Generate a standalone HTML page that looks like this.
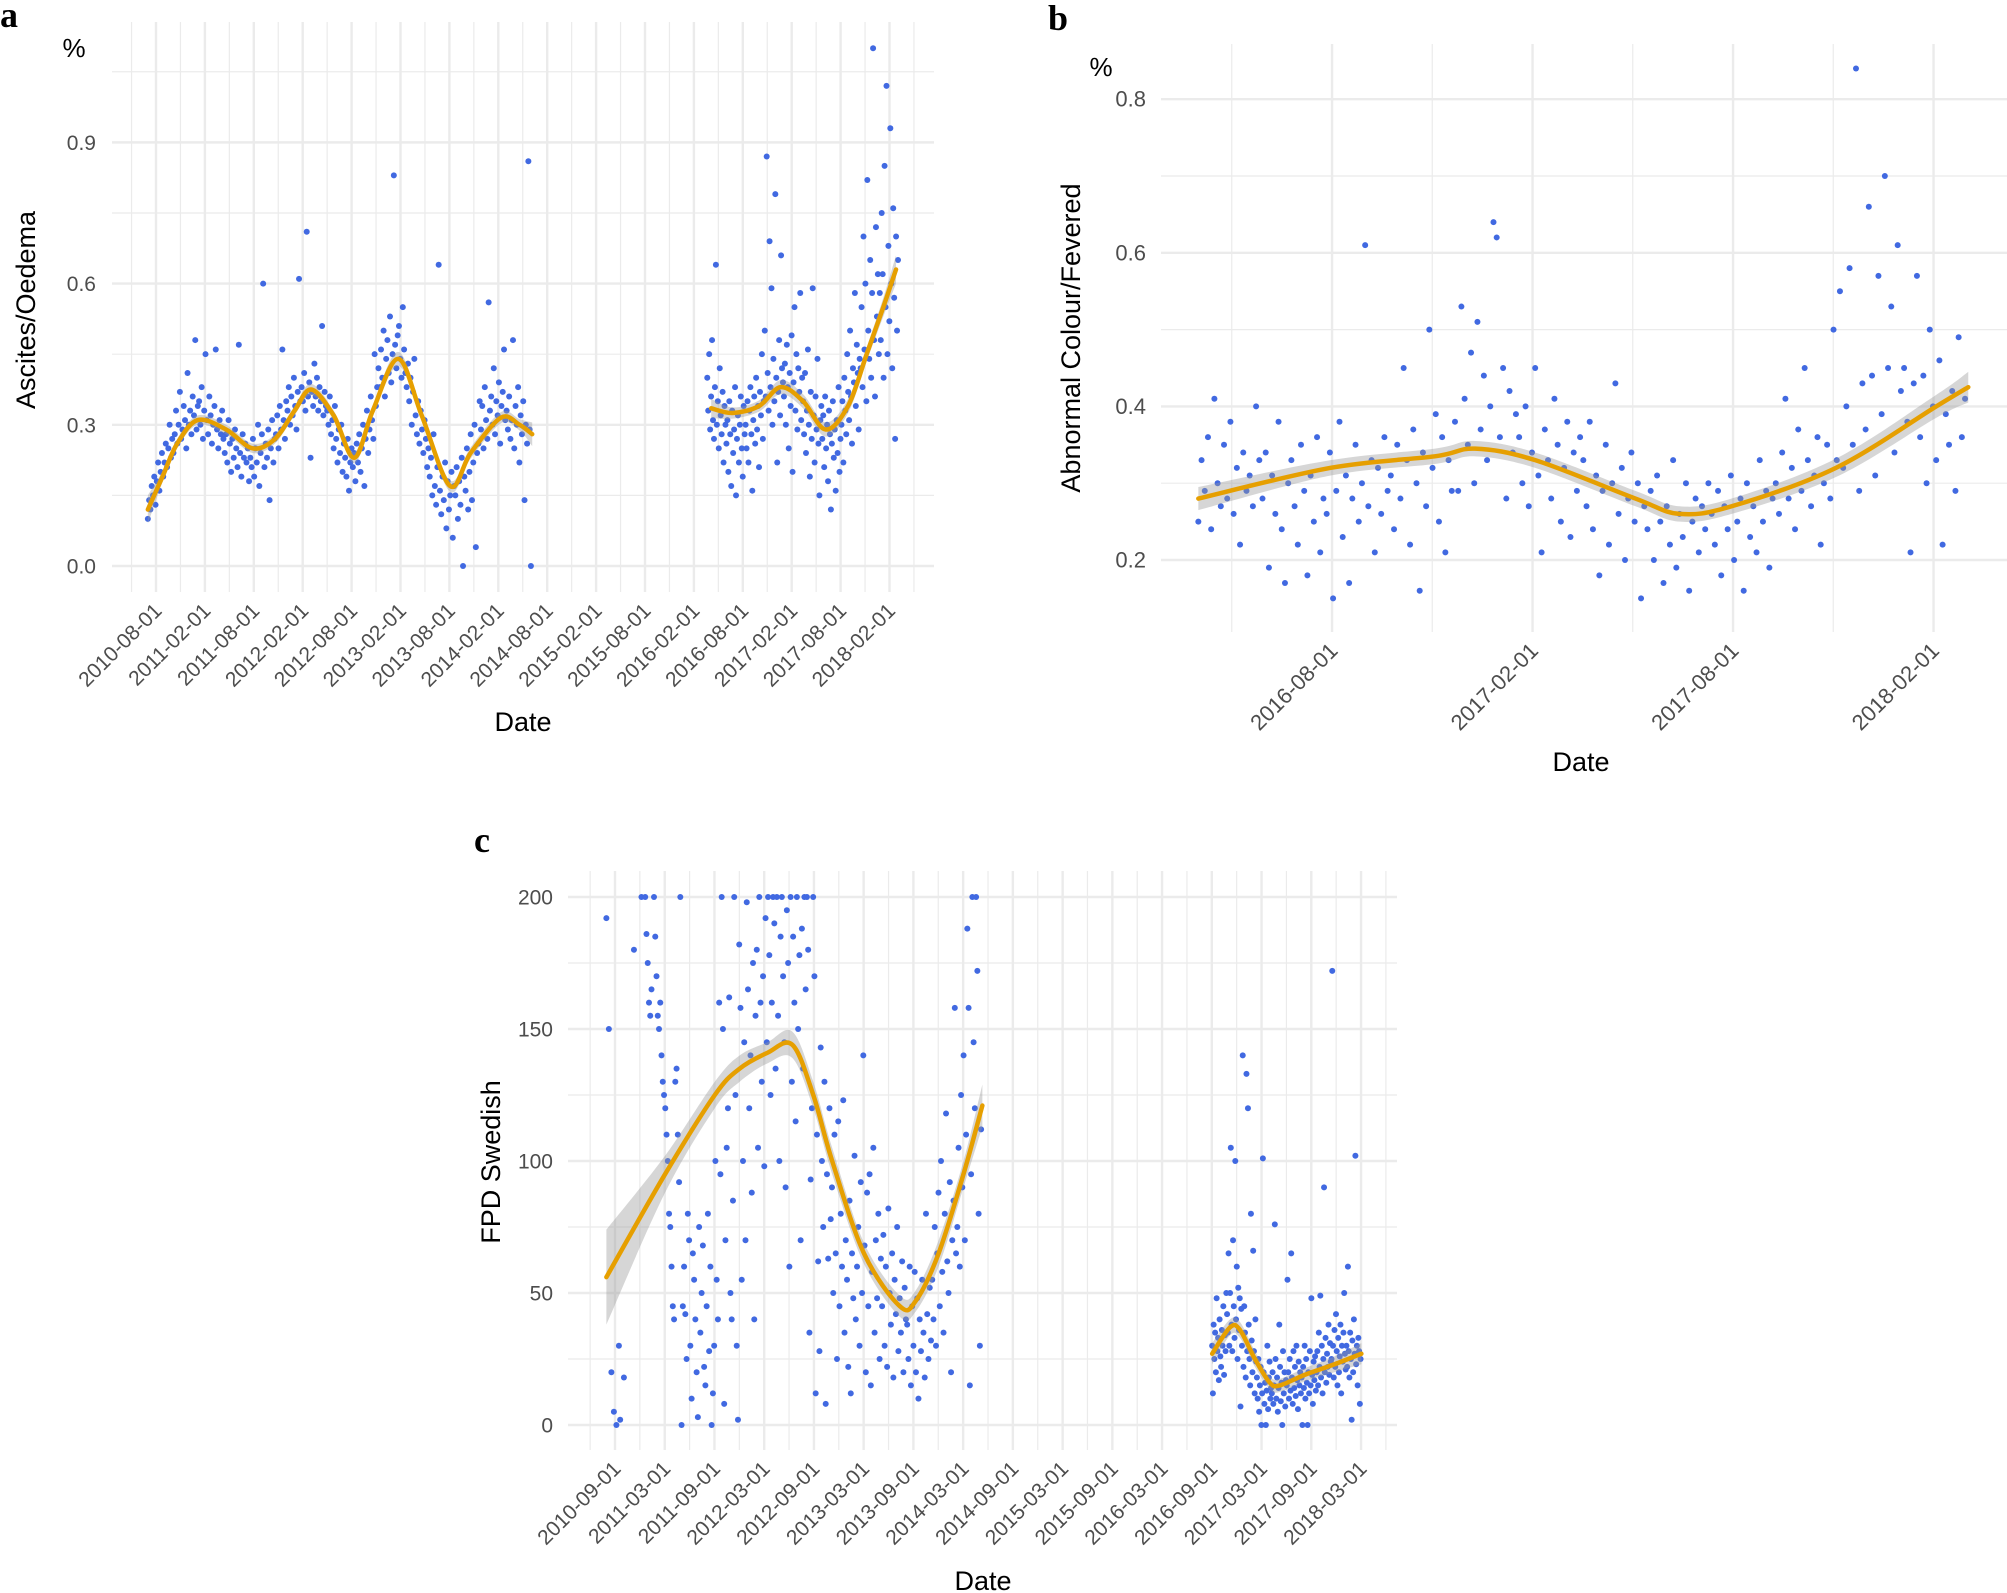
<!DOCTYPE html>
<html><head><meta charset="utf-8">
<style>
html,body{margin:0;padding:0;background:#fff;}
svg{display:block;font-family:"Liberation Sans",sans-serif;}
</style></head>
<body>
<svg id="chart" width="2007" height="1593" viewBox="0 0 2007 1593" xmlns="http://www.w3.org/2000/svg"></svg>
<script>
// ---------- Panel a data ----------
const aTickLabels=['2010-08-01','2011-02-01','2011-08-01','2012-02-01','2012-08-01','2013-02-01','2013-08-01','2014-02-01','2014-08-01','2015-02-01','2015-08-01','2016-02-01','2016-08-01','2017-02-01','2017-08-01','2018-02-01'];
const aYTicks=[0,0.3,0.6,0.9];
const aSeg1Start=2010.50, aSeg1Step=0.0131;
const aSeg1Values=[.10,.14,.12,.17,.15,.19,.13,.18,.22,.16,.20,.24,.19,.22,.26,.21,.25,.30,.23,.27,
.24,.28,.33,.26,.30,.37,.27,.29,.34,.31,.25,.41,.30,.33,.28,.36,.32,.48,.29,.34,
.35,.30,.38,.27,.33,.45,.31,.28,.36,.32,.26,.30,.34,.46,.29,.25,.31,.28,.33,.27,
.24,.28,.22,.31,.26,.20,.27,.23,.29,.25,.21,.47,.24,.19,.28,.23,.26,.22,.25,.18,
.23,.21,.27,.19,.25,.22,.30,.17,.24,.28,.60,.21,.26,.23,.29,.14,.25,.31,.22,.27,
.28,.32,.25,.34,.29,.46,.31,.27,.35,.33,.38,.30,.36,.32,.40,.34,.29,.37,.61,.35,
.38,.35,.41,.33,.71,.36,.39,.23,.37,.34,.43,.36,.40,.33,.38,.35,.51,.32,.37,.34,
.33,.30,.36,.28,.31,.25,.34,.27,.22,.29,.24,.30,.20,.26,.23,.19,.27,.16,.22,.25,
.21,.24,.18,.26,.22,.28,.20,.25,.30,.17,.27,.33,.24,.29,.36,.31,.27,.45,.34,.38,
.42,.38,.46,.40,.50,.36,.44,.48,.41,.53,.39,.45,.83,.47,.42,.49,.51,.44,.40,.55,
.46,.41,.38,.43,.35,.40,.30,.37,.44,.32,.28,.35,.26,.33,.29,.24,.31,.27,.21,.25,
.19,.23,.15,.28,.17,.13,.21,.64,.16,.11,.19,.14,.22,.08,.18,.12,.15,.20,.06,.17,
.15,.21,.10,.18,.13,.23,.00,.19,.16,.25,.12,.20,.28,.14,.22,.30,.04,.24,.26,.35,
.29,.34,.25,.38,.31,.27,.56,.33,.36,.30,.42,.28,.35,.32,.39,.26,.34,.37,.46,.31,
.33,.29,.36,.27,.31,.48,.25,.34,.30,.38,.22,.32,.28,.35,.14,.30,.26,.86,.29,.00];
const aSeg2Start=2016.22, aSeg2Step=0.0098;
const aSeg2Values=[.40,.33,.45,.29,.36,.48,.31,.27,.38,.64,.30,.35,.25,.42,.32,.28,.37,.22,.34,.30,
.26,.31,.20,.35,.28,.17,.33,.24,.29,.38,.15,.27,.32,.22,.30,.36,.25,.19,.34,.28,
.30,.25,.35,.22,.33,.38,.28,.16,.31,.36,.26,.40,.29,.34,.21,.37,.32,.45,.27,.35,
.50,.36,.87,.41,.33,.69,.38,.59,.30,.44,.35,.79,.40,.22,.37,.48,.32,.66,.42,.39,
.36,.43,.30,.47,.38,.25,.41,.34,.49,.20,.39,.55,.33,.45,.29,.42,.37,.58,.31,.40,
.35,.28,.41,.24,.33,.46,.30,.19,.37,.27,.59,.32,.22,.36,.29,.44,.26,.15,.31,.34,
.27,.32,.21,.36,.25,.30,.18,.33,.28,.12,.26,.35,.23,.29,.16,.31,.24,.38,.20,.27,
.30,.35,.22,.40,.33,.28,.45,.37,.31,.50,.36,.26,.42,.39,.58,.34,.47,.41,.29,.44,
.42,.55,.38,.70,.46,.60,.35,.82,.50,.44,.65,.40,.58,1.10,.48,.36,.72,.53,.62,.45,
.58,.48,.75,.62,.40,.85,.55,1.02,.45,.68,.52,.93,.60,.42,.76,.57,.27,.70,.50,.65];
const aSmooth1T=[2010.50,2010.65,2010.80,2011.01,2011.30,2011.57,2011.80,2012.00,2012.17,2012.40,2012.61,2012.80,2013.06,2013.30,2013.59,2013.80,2014.11,2014.30,2014.43];
const aSmooth1V=[.12,.19,.26,.31,.29,.25,.27,.33,.375,.32,.23,.33,.44,.32,.17,.24,.315,.30,.28];
const aSmooth1Band=[.03,.012,.01,.01,.01,.01,.01,.01,.012,.01,.012,.012,.015,.012,.012,.012,.012,.012,.025];
const aSmooth2T=[2016.26,2016.48,2016.75,2016.97,2017.20,2017.43,2017.66,2017.85,2018.02,2018.15];
const aSmooth2V=[.335,.325,.34,.38,.35,.29,.34,.45,.55,.63];
const aSmooth2Band=[.02,.012,.012,.015,.015,.015,.015,.015,.02,.03];

// ---------- Panel b data ----------
const bTickLabels=['2016-08-01','2017-02-01','2017-08-01','2018-02-01'];
const bYTicks=[0.2,0.4,0.6,0.8];
const bStart=2016.25, bStep=0.008;
const bValues=[.25,.33,.29,.36,.24,.41,.30,.27,.35,.28,.38,.26,.32,.22,.34,.29,.31,.27,.40,.33,
.28,.34,.19,.31,.26,.38,.24,.17,.30,.33,.27,.22,.35,.29,.18,.31,.25,.36,.21,.28,
.26,.34,.15,.29,.38,.23,.31,.17,.28,.35,.25,.30,.61,.27,.33,.21,.32,.26,.36,.29,
.31,.24,.35,.28,.45,.33,.22,.37,.30,.16,.34,.27,.50,.32,.39,.25,.36,.21,.33,.29,
.38,.29,.53,.41,.35,.47,.30,.51,.37,.44,.33,.40,.64,.62,.36,.45,.28,.42,.34,.39,
.36,.30,.40,.27,.34,.45,.31,.21,.37,.33,.28,.41,.35,.25,.32,.38,.23,.34,.29,.36,
.33,.27,.38,.24,.31,.18,.29,.35,.22,.30,.43,.26,.32,.20,.28,.34,.25,.30,.15,.27,
.24,.29,.20,.31,.25,.17,.27,.22,.33,.19,.26,.23,.30,.16,.25,.28,.21,.27,.24,.30,
.26,.22,.29,.18,.27,.24,.31,.20,.25,.28,.16,.30,.23,.27,.21,.33,.25,.29,.19,.28,
.30,.26,.34,.41,.28,.32,.24,.37,.29,.45,.33,.27,.31,.36,.22,.30,.35,.28,.50,.33,
.55,.32,.40,.58,.35,.84,.29,.43,.37,.66,.44,.31,.57,.39,.70,.45,.53,.34,.61,.42,
.45,.38,.21,.43,.57,.36,.44,.30,.50,.40,.33,.46,.22,.39,.35,.42,.29,.49,.36,.41];
const bSmoothT=[2016.25,2016.58,2016.84,2016.94,2017.09,2017.34,2017.45,2017.58,2017.84,2018.09,2018.17];
const bSmoothV=[.28,.32,.335,.345,.33,.28,.26,.27,.32,.40,.425];
const bSmoothBand=[.015,.01,.01,.01,.01,.01,.01,.01,.012,.015,.02];

// ---------- Panel c data ----------
const cTickLabels=['2010-09-01','2011-03-01','2011-09-01','2012-03-01','2012-09-01','2013-03-01','2013-09-01','2014-03-01','2014-09-01','2015-03-01','2015-09-01','2016-03-01','2016-09-01','2017-03-01','2017-09-01','2018-03-01'];
const cYTicks=[0,50,100,150,200];
const cSeg1Start=2010.58, cSeg1Step=0.0126;
const cSeg1Values=[192,null,150,null,20,null,5,null,0,null,30,2,null,null,18,null,null,null,null,null,
null,null,180,null,null,null,null,null,200,null,null,200,186,175,160,155,165,null,200,185,
170,155,150,160,140,130,125,120,110,100,80,75,60,45,40,130,135,110,92,200,
0,45,60,42,25,80,70,30,10,65,55,40,20,3,75,35,50,68,22,15,
45,80,28,60,0,12,30,100,55,40,160,95,200,150,8,70,105,120,162,50,
40,85,200,125,30,2,182,158,55,100,145,70,198,165,120,140,88,175,40,155,
180,105,200,160,130,170,98,192,145,200,178,125,160,200,190,135,200,155,100,185,
200,170,145,90,195,175,60,200,130,185,160,115,200,150,178,70,188,135,200,165,
200,180,35,93,120,200,170,12,110,62,28,143,100,75,130,8,95,63,120,78,
90,50,110,65,25,115,45,80,60,123,35,70,55,22,85,12,65,48,102,40,
60,75,30,92,50,140,68,20,88,45,95,15,58,105,35,70,48,80,25,63,
45,72,30,60,22,82,50,38,65,18,55,42,75,28,48,35,62,20,52,40,
38,25,60,15,45,30,58,20,48,10,40,28,55,35,18,80,42,25,52,32,
55,40,75,30,65,88,45,100,58,35,80,118,62,50,92,20,70,85,158,65,
75,105,60,125,90,140,70,110,188,158,15,95,200,145,120,200,172,80,30,112];
const cSeg2Start=2016.67, cSeg2Step=0.0075;
const cSeg2Values=[30,12,38,25,35,20,48,28,33,17,40,26,22,36,30,45,19,34,28,50,
42,35,65,30,50,105,38,28,70,45,33,100,40,60,25,52,36,48,7,44,
30,140,22,45,35,18,133,28,120,38,25,15,80,32,20,66,28,12,40,24,
18,10,25,5,15,22,0,12,101,20,8,16,0,13,30,6,18,24,10,14,
12,20,8,15,76,25,10,18,5,14,38,22,9,16,0,28,12,20,7,17,
15,55,20,10,25,13,65,18,8,28,14,22,11,30,17,6,24,15,20,12,
18,0,22,14,30,10,25,16,0,20,12,28,15,48,19,8,24,17,26,13,
20,28,15,35,22,49,18,30,12,25,90,20,33,16,27,22,38,19,31,24,
25,172,30,18,36,22,42,28,15,33,20,26,38,12,30,24,35,50,27,21,
30,22,60,28,18,35,25,2,32,20,40,27,102,23,30,15,33,28,8,25];
const cSmooth1T=[2010.58,2011.17,2011.67,2011.92,2012.20,2012.45,2012.66,2012.85,2013.17,2013.53,2013.69,2013.92,2014.17,2014.36];
const cSmooth1V=[56,95,125,135,141,144,125,100,65,45,47,65,95,121];
const cSmooth1Band=[18,7,5,5,4,5,5,5,4,4,4,5,5,8];
const cSmooth2T=[2016.67,2016.85,2016.95,2017.10,2017.25,2017.35,2017.60,2017.90,2018.17];
const cSmooth2V=[27,37,36,25,16,15,19,23,27];
const cSmooth2Band=[4,3,3,3,2.5,2.5,2.5,3,4];

// ---------- rendering ----------
const svg=document.getElementById('chart');
const NS='http://www.w3.org/2000/svg';
function mk(tag,attrs,parent){const e=document.createElementNS(NS,tag);for(const k in attrs)e.setAttribute(k,attrs[k]);(parent||svg).appendChild(e);return e;}
function dateToYear(s){const p=s.split('-');return +p[0]+(+p[1]-1)/12;}
function crPath(pts){let d='M'+pts[0][0]+','+pts[0][1];for(let i=0;i<pts.length-1;i++){const p0=pts[i-1]||pts[i],p1=pts[i],p2=pts[i+1],p3=pts[i+2]||p2;const c1=[p1[0]+(p2[0]-p0[0])/6,p1[1]+(p2[1]-p0[1])/6],c2=[p2[0]-(p3[0]-p1[0])/6,p2[1]-(p3[1]-p1[1])/6];d+='C'+c1[0]+','+c1[1]+' '+c2[0]+','+c2[1]+' '+p2[0]+','+p2[1];}return d;}
function crCont(pts){return crPath(pts).replace(/^M/,'L');}

function panel(cfg){
  const g=mk('g',{});
  
  
  cfg.hMinor.forEach(v=>{const l=mk('line',{x1:cfg.gx0,x2:cfg.gx1,y1:cfg.y(v),y2:cfg.y(v),stroke:'#EBEBEB','stroke-width':1.2},g);
    
    });
  cfg.yTicks.forEach(v=>{const l=mk('line',{x1:cfg.gx0,x2:cfg.gx1,y1:cfg.y(v),y2:cfg.y(v),stroke:'#EBEBEB','stroke-width':2.4},g);
    
    
    const t=mk('text',{x:cfg.ylabX,y:cfg.y(v)+7.5,'text-anchor':'end','font-size':cfg.tickFs,fill:'#4D4D4D'},g);
    t.textContent=cfg.yFmt(v);
    
    });
  cfg.vMinor.forEach(t=>{const l=mk('line',{x1:cfg.x(t),x2:cfg.x(t),y1:cfg.gy0,y2:cfg.gy1,stroke:'#EBEBEB','stroke-width':1.2},g);
    
    });
  cfg.ticks.forEach(s=>{const xx=cfg.x(dateToYear(s));const l=mk('line',{x1:xx,x2:xx,y1:cfg.gy0,y2:cfg.gy1,stroke:'#EBEBEB','stroke-width':2.4},g);
    
    
    const lx=xx+7,ly=cfg.gy1+20;
    const t=mk('text',{x:lx,y:ly,'text-anchor':'end','font-size':cfg.tickFs,fill:'#4D4D4D',transform:'rotate(-45 '+lx+' '+ly+')'},g);
    t.textContent=s;
    
    });
  cfg.series.forEach(se=>{se.vals.forEach((v,i)=>{if(v===null)return;const t=se.start+i*se.step;
    const c=mk('circle',{cx:cfg.x(t),cy:cfg.y(v),r:3,fill:'#4169E1'},g);
    
    });});
  cfg.smooths.forEach(sm=>{
    const up=sm.t.map((t,i)=>[cfg.x(t),cfg.y(sm.v[i]+sm.b[i])]);
    const lo=sm.t.map((t,i)=>[cfg.x(t),cfg.y(sm.v[i]-sm.b[i])]).reverse();
    const band=mk('path',{d:crPath(up)+crCont(lo)+'Z',fill:'#999999','fill-opacity':0.4},g);
    
    
    const line=mk('path',{d:crPath(sm.t.map((t,i)=>[cfg.x(t),cfg.y(sm.v[i])])),fill:'none',stroke:'#E69F00','stroke-width':4.5,'stroke-linecap':'round'},g);
    
    });
  const yt=mk('text',{x:cfg.ytX,y:cfg.ytY,'text-anchor':'middle','font-size':27,fill:'#000',transform:'rotate(-90 '+cfg.ytX+' '+cfg.ytY+')'},g);
  yt.textContent=cfg.yTitle;
  
  
  const xt=mk('text',{x:cfg.xtX,y:cfg.xtY,'text-anchor':'middle','font-size':27,fill:'#000'},g);
  xt.textContent='Date';
  
  
  const pc=mk('text',{x:cfg.pcX,y:cfg.pcY,'text-anchor':'middle','font-size':26,fill:'#000'},g);
  pc.textContent='%';
  
  
  const lt=mk('text',{x:cfg.ltX,y:cfg.ltY,'font-size':36,'font-weight':'bold','font-family':'"Liberation Serif",serif',fill:'#000'},g);
  lt.textContent=cfg.letter;
  
  
}
function halfMinors(ticks){const ys=ticks.map(dateToYear);const m=[];for(let i=-1;i<ys.length;i++){m.push((i<0?ys[0]-0.5:ys[i])+0.25);}return m;}

panel({name:'panel-a-ascites-oedema',letter:'a',
  x:t=>156+(t-2010.5833)*97.8,y:v=>566-v*470.7,
  gx0:112,gx1:934,gy0:22,gy1:592,
  yTicks:aYTicks,hMinor:[0.15,0.45,0.75,1.05],vMinor:halfMinors(aTickLabels),ticks:aTickLabels,
  yFmt:v=>v.toFixed(1),ylabX:96,tickFs:21,
  series:[{start:aSeg1Start,step:aSeg1Step,vals:aSeg1Values},{start:aSeg2Start,step:aSeg2Step,vals:aSeg2Values}],
  smooths:[{t:aSmooth1T,v:aSmooth1V,b:aSmooth1Band},{t:aSmooth2T,v:aSmooth2V,b:aSmooth2Band}],
  yTitle:'Ascites/Oedema',ytX:35,ytY:310,xtX:523,xtY:731,pcX:74,pcY:57,ltX:0,ltY:27});

panel({name:'panel-b-abnormal-colour',letter:'b',
  x:t=>1332+(t-2016.5833)*401,y:v=>560-(v-0.2)*768,
  gx0:1161,gx1:2007,gy0:44,gy1:632,
  yTicks:bYTicks,hMinor:[0.3,0.5,0.7],vMinor:bTickLabels.map(s=>dateToYear(s)-0.25),ticks:bTickLabels,
  yFmt:v=>v.toFixed(1),ylabX:1146,tickFs:22,
  series:[{start:bStart,step:bStep,vals:bValues}],
  smooths:[{t:bSmoothT,v:bSmoothV,b:bSmoothBand}],
  yTitle:'Abnormal Colour/Fevered',ytX:1080,ytY:338,xtX:1581,xtY:771,pcX:1101,pcY:76,ltX:1048,ltY:30});

panel({name:'panel-c-fpd-swedish',letter:'c',
  x:t=>615+(t-2010.6667)*99.47,y:v=>1425-v*2.64,
  gx0:568,gx1:1397,gy0:871,gy1:1450,
  yTicks:cYTicks,hMinor:[25,75,125,175],vMinor:halfMinors(cTickLabels),ticks:cTickLabels,
  yFmt:v=>String(v),ylabX:553,tickFs:21,
  series:[{start:cSeg1Start,step:cSeg1Step,vals:cSeg1Values},{start:cSeg2Start,step:cSeg2Step,vals:cSeg2Values}],
  smooths:[{t:cSmooth1T,v:cSmooth1V,b:cSmooth1Band},{t:cSmooth2T,v:cSmooth2V,b:cSmooth2Band}],
  yTitle:'FPD Swedish',ytX:500,ytY:1162,xtX:983,xtY:1590,pcX:-100,pcY:-100,ltX:474,ltY:852});
</script>
</body></html>
